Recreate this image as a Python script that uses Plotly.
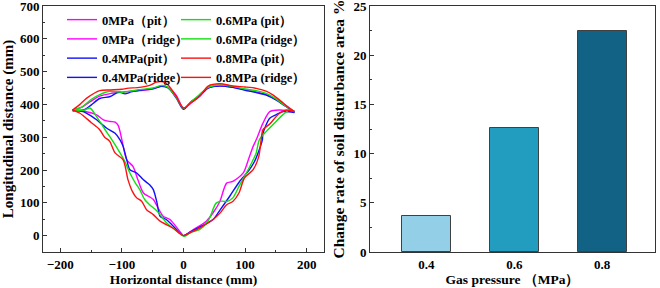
import plotly.graph_objects as go

# ---------------- data: left panel (boundary profiles, mm) ----------------
red_up_x = [-180,-168,-157,-136,-119,-100,-92,-71,-55,-44,-33,-25,-12,0,12,26,40,59,80,100,118,135,145,158,167,180]
red_up_y = [383,400,419,442,444,446,449,452,458,468,469,459,425,389,405,424,456,463,456,453,449,440,429,410,396,378]
green_up_x = [-180,-165,-150,-136,-119,-100,-88,-71,-50,-35,-25,-12,0,12,26,40,59,80,100,118,135,150,165,180]
green_up_y = [383,392,415,430,440,437,440,445,450,458,452,422,388,408,430,452,459,455,447,442,433,417,396,378]
blue_up_x = [-180,-160,-150,-136,-119,-105,-95,-85,-71,-50,-35,-25,-12,0,12,26,40,59,80,100,118,135,150,165,180]
blue_up_y = [380,385,398,418,424,438,432,438,443,448,455,450,420,385,408,426,450,456,452,443,436,428,414,395,375]
mag_up_x = [-180,-165,-150,-136,-119,-100,-85,-71,-50,-35,-25,-12,0,12,26,40,59,80,100,118,135,150,165,180]
mag_up_y = [383,392,410,425,433,437,440,442,447,456,452,428,388,404,425,450,457,452,445,438,430,415,398,378]

red_lo_x = [-180,-168,-150,-136,-128,-120,-111,-98,-90,-83,-76,-68,-60,-49,-38,-17,0,12,26,48,60,70,80,90,99,113,122,126,129,140,150,156,167,180]
red_lo_y = [383,373,345,323,300,288,252,231,170,135,115,105,79,64,44,23,0,10,23,49,70,94,104,130,176,201,240,292,323,340,362,373,383,378]
green_lo_x = [-180,-160,-152,-141,-128,-119,-103,-95,-87,-78,-71,-63,-55,-46,-38,-28,-17,2,12,26,40,53,62,70,80,90,102,110,118,123,134,145,161,172,180]
green_lo_y = [383,383,389,363,325,300,252,225,191,160,140,110,94,80,64,40,23,-2,10,18,45,99,105,104,115,150,191,220,252,292,317,338,368,383,378]
blue_lo_x = [-180,-163,-150,-141,-125,-111,-103,-98,-92,-87,-76,-65,-55,-49,-43,-38,-28,-20,-11,0,12,26,48,60,75,91,107,115,121,128,129,140,150,161,180]
blue_lo_y = [383,378,365,353,328,312,292,272,230,201,191,170,155,140,100,59,49,35,18,0,12,26,49,80,120,165,201,225,252,292,312,358,368,378,375]
mag_lo_x = [-180,-163,-141,-130,-119,-111,-106,-100,-92,-82,-74,-65,-55,-49,-40,-33,-22,-6,0,8,16,37,50,59,70,80,97,105,113,118,129,140,156,180]
mag_lo_y = [383,380,368,353,348,346,336,292,231,211,170,130,118,110,80,59,49,13,0,8,18,44,75,104,160,165,191,230,272,292,343,378,383,378]

# ---------------- data: right panel ----------------
pressures = ["0.4", "0.6", "0.8"]
change_rate = [3.7, 12.6, 22.5]
bar_colors = ["#94CFE8", "#229DBF", "#126285"]

FONT = "Liberation Serif"
MAG, BLUE, GREEN, RED = "#FF00FF", "#1010FF", "#10E010", "#FF1010"

fig = go.Figure()

def add(x, y, color, name, legend):
    fig.add_trace(go.Scatter(
        x=x, y=y, mode="lines", name=name, legend=legend,
        line=dict(color=color, width=1.4, shape="spline", smoothing=0.8),
        xaxis="x", yaxis="y"))

add(mag_up_x, mag_up_y, MAG, "0MPa（pit）", "legend")
add(mag_lo_x, mag_lo_y, MAG, "0MPa（ridge）", "legend")
add(blue_up_x, blue_up_y, BLUE, "0.4MPa(pit）", "legend")
add(blue_lo_x, blue_lo_y, BLUE, "0.4MPa(ridge）", "legend")
add(green_up_x, green_up_y, GREEN, "0.6MPa (pit）", "legend2")
add(green_lo_x, green_lo_y, GREEN, "0.6MPa (ridge）", "legend2")
add(red_up_x, red_up_y, RED, "0.8MPa (pit）", "legend2")
add(red_lo_x, red_lo_y, RED, "0.8MPa (ridge）", "legend2")

fig.add_trace(go.Bar(
    x=pressures, y=change_rate, width=0.56,
    marker=dict(color=bar_colors, line=dict(color="#404040", width=1)),
    xaxis="x2", yaxis="y2", showlegend=False))

axis_common = dict(
    showline=True, linecolor="#333", linewidth=1, mirror=True,
    ticks="inside", ticklen=4, tickcolor="#333", showgrid=False, zeroline=False,
    ticklabeloverflow="allow", automargin=False,
    tickfont=dict(family=FONT, size=13, color="black", weight="bold"),
)
xtitle_font = dict(family=FONT, size=13.5, color="black", weight="bold")
ytitle_font = dict(family=FONT, size=15, color="black", weight="bold")
ytitle_font2 = dict(family=FONT, size=15.5, color="black", weight="bold")

L = 43; R = 5; T = 6; B = 36
W = 660 - L - R
H = 288 - T - B

leg_font = dict(family=FONT, size=12.5, color="black", weight="bold")

fig.update_layout(
    width=660, height=288,
    margin=dict(l=L, r=R, t=T, b=B, autoexpand=False),
    plot_bgcolor="white", paper_bgcolor="white",
    font=dict(family=FONT, color="black"),
    xaxis=dict(domain=[0, (324 - L) / W], range=[-228, 228], tickvals=[-200, -100, 0, 100, 200],
               ticktext=["\u2212200", "\u2212100", "0", "100", "200"],
               minor=dict(dtick=50, ticks="inside", ticklen=2, tickcolor="#333"),
               title=dict(text="Horizontal distance (mm)", font=xtitle_font, standoff=1),
               **axis_common),
    yaxis=dict(range=[-50, 700], tickvals=[0, 100, 200, 300, 400, 500, 600, 700],
               minor=dict(dtick=50, ticks="inside", ticklen=2, tickcolor="#333"),
               title=dict(text="Longitudinal distance (mm)", font=ytitle_font, standoff=3),
               **axis_common),
    xaxis2=dict(domain=[(370 - L) / W, 1], range=[-0.64, 2.6], type="category",
                title=dict(text="Gas pressure （MPa）", font=xtitle_font, standoff=1),
                **{**axis_common, "ticks": ""}),
    yaxis2=dict(anchor="x2", range=[0, 25], tickvals=[0, 5, 10, 15, 20, 25],
                minor=dict(dtick=2.5, ticks="inside", ticklen=2, tickcolor="#333"),
                title=dict(text="Change rate of soil disturbance area %", font=ytitle_font2, standoff=4),
                **axis_common),
    legend=dict(x=(62 - L) / W, y=1 - (5 - T) / H, xanchor="left", yanchor="top",
                bgcolor="rgba(0,0,0,0)", itemwidth=30, tracegroupgap=0, font=leg_font),
    legend2=dict(x=(176 - L) / W, y=1 - (5 - T) / H, xanchor="left", yanchor="top",
                 bgcolor="rgba(0,0,0,0)", itemwidth=30, tracegroupgap=0, font=leg_font),
    bargap=0,
)

fig.write_html("out.html")
